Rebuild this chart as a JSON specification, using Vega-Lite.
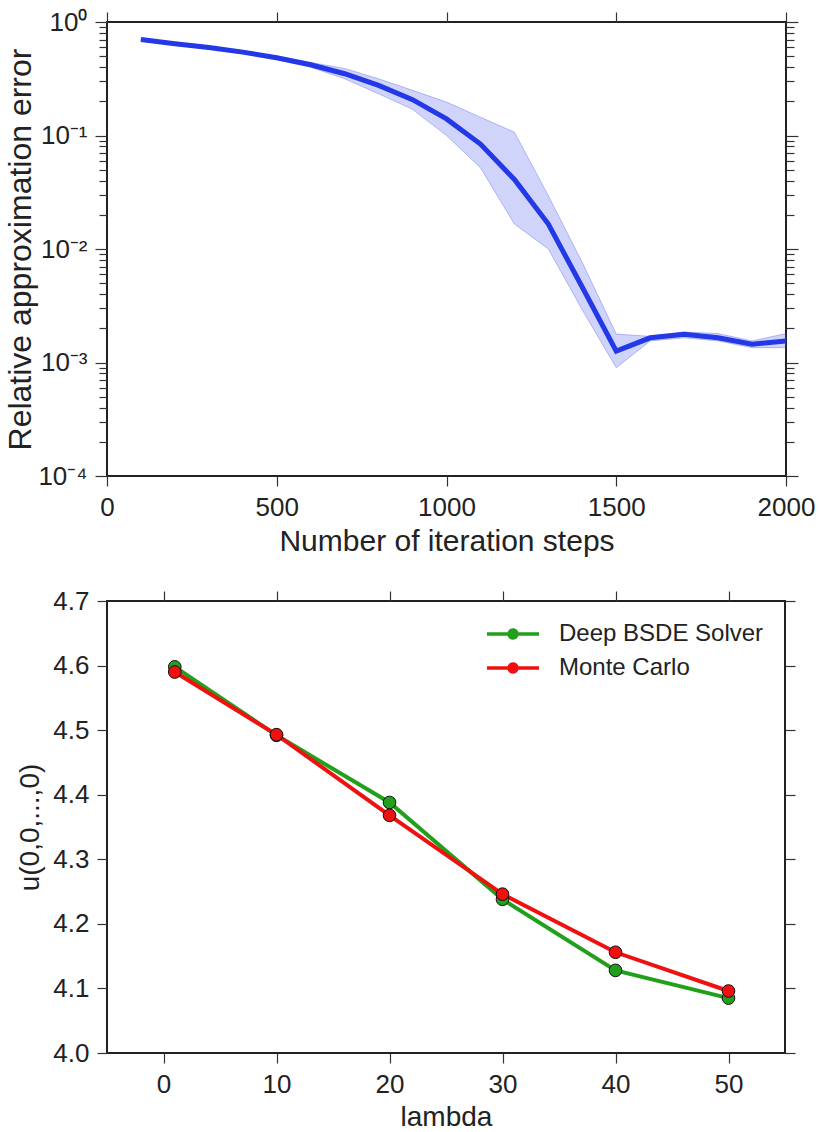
{
  "$schema": "https://vega.github.io/schema/vega-lite/v6.json",
  "padding": {"left": 3, "top": 8, "right": 0, "bottom": 0},
  "background": "white",
  "config": {
    "font": "Liberation Sans",
    "view": {"stroke": "#222", "strokeWidth": 2},
    "axis": {"domain": false, "grid": false, "tickColor": "#333", "tickWidth": 1.2, "labelFont": "Liberation Sans", "labelFontSize": 26, "labelColor": "#222", "titleFont": "Liberation Sans", "titleFontWeight": "normal", "titleColor": "#222", "labelFlush": false, "labelOverlap": false, "tickSize": 10, "labelPadding": 8},
    "legend": {"orient": "none", "legendX": 380, "legendY": 20, "title": null,
               "symbolType": "M-2,-0.14H2V0.14H-2Z M0.44,0A0.44,0.44,0,1,1,-0.44,0A0.44,0.44,0,1,1,0.44,0Z",
               "symbolSize": 676, "symbolStrokeWidth": 0, "symbolOffset": 13, "labelOffset": 33, "labelLimit": 0,
               "labelFontSize": 24, "labelFont": "Liberation Sans", "labelColor": "#222", "rowPadding": 9, "padding": 0, "symbolOpacity": 1},
    "concat": {"spacing": 30}
  },
  "resolve": {"legend": {"color": "independent"}},
  "vconcat": [
    {
      "width": 679,
      "height": 454,
      "data": {"values": [
        {"step": 100, "err": 0.70, "lo": 0.685, "hi": 0.72},
        {"step": 200, "err": 0.644, "lo": 0.63, "hi": 0.66},
        {"step": 300, "err": 0.597, "lo": 0.58, "hi": 0.615},
        {"step": 400, "err": 0.543, "lo": 0.525, "hi": 0.56},
        {"step": 500, "err": 0.484, "lo": 0.465, "hi": 0.50},
        {"step": 600, "err": 0.42, "lo": 0.40, "hi": 0.44},
        {"step": 700, "err": 0.35, "lo": 0.316, "hi": 0.39},
        {"step": 800, "err": 0.276, "lo": 0.233, "hi": 0.316},
        {"step": 900, "err": 0.207, "lo": 0.17, "hi": 0.25},
        {"step": 1000, "err": 0.14, "lo": 0.10, "hi": 0.197},
        {"step": 1100, "err": 0.084, "lo": 0.052, "hi": 0.145},
        {"step": 1200, "err": 0.041, "lo": 0.0166, "hi": 0.107},
        {"step": 1300, "err": 0.0166, "lo": 0.010, "hi": 0.0295},
        {"step": 1400, "err": 0.0046, "lo": 0.0029, "hi": 0.0076},
        {"step": 1500, "err": 0.00126, "lo": 0.0009, "hi": 0.00178},
        {"step": 1600, "err": 0.00165, "lo": 0.00155, "hi": 0.0017},
        {"step": 1700, "err": 0.00177, "lo": 0.00165, "hi": 0.00186},
        {"step": 1800, "err": 0.00165, "lo": 0.00155, "hi": 0.0018},
        {"step": 1900, "err": 0.00145, "lo": 0.00135, "hi": 0.00155},
        {"step": 2000, "err": 0.00155, "lo": 0.00135, "hi": 0.0018}
      ]},
      "layer": [
        {
          "mark": {"type": "area", "fill": "#2b3de8", "fillOpacity": 0.22, "stroke": "#2b3de8", "strokeOpacity": 0.3, "strokeWidth": 1},
          "encoding": {
            "x": {"field": "step", "type": "quantitative", "scale": {"domain": [0, 2000], "nice": false},
                  "axis": {"values": [0, 500, 1000, 1500, 2000], "format": "d", "title": "Number of iteration steps", "titleFontSize": 30, "titlePadding": 6}},
            "y": {"field": "lo", "type": "quantitative", "scale": {"type": "log", "domain": [0.0001, 1], "nice": false},
                  "axis": {"values": [0.0001,0.0002,0.0003,0.0004,0.0005,0.0006,0.0007,0.0008,0.0009,0.001,0.002,0.003,0.004,0.005,0.006,0.007,0.008,0.009,0.01,0.02,0.03,0.04,0.05,0.06,0.07,0.08,0.09,0.1,0.2,0.3,0.4,0.5,0.6,0.7,0.8,0.9,1],
                           "labelExpr": "datum.value == 1 ? '10⁰' : datum.value == 0.1 ? '10⁻¹' : datum.value == 0.01 ? '10⁻²' : datum.value == 0.001 ? '10⁻³' : datum.value == 0.0001 ? '10⁻⁴' : ''",
                           "tickSize": {"condition": {"test": "indexof([1,0.1,0.01,0.001,0.0001], datum.value) >= 0", "value": 12}, "value": 8},
                           "title": "Relative approximation error", "titleFontSize": 32, "titlePadding": 0}},
            "y2": {"field": "hi"}
          }
        },
        {
          "mark": {"type": "line", "color": "#2338e6", "strokeWidth": 5},
          "encoding": {
            "x": {"field": "step", "type": "quantitative", "axis": {"orient": "top", "labels": false, "title": null, "values": [0, 500, 1000, 1500, 2000]}},
            "y": {"field": "err", "type": "quantitative",
                  "axis": {"orient": "right", "labels": false, "title": null,
                           "values": [0.0001,0.0002,0.0003,0.0004,0.0005,0.0006,0.0007,0.0008,0.0009,0.001,0.002,0.003,0.004,0.005,0.006,0.007,0.008,0.009,0.01,0.02,0.03,0.04,0.05,0.06,0.07,0.08,0.09,0.1,0.2,0.3,0.4,0.5,0.6,0.7,0.8,0.9,1],
                           "tickSize": {"condition": {"test": "indexof([1,0.1,0.01,0.001,0.0001], datum.value) >= 0", "value": 12}, "value": 8}}}
          }
        }
      ],
      "resolve": {"axis": {"x": "independent", "y": "independent"}}
    },
    {
      "width": 678,
      "height": 452,
      "data": {"values": [
        {"lambda": 1, "method": "Deep BSDE Solver", "u": 4.598},
        {"lambda": 10, "method": "Deep BSDE Solver", "u": 4.492},
        {"lambda": 20, "method": "Deep BSDE Solver", "u": 4.388},
        {"lambda": 30, "method": "Deep BSDE Solver", "u": 4.238},
        {"lambda": 40, "method": "Deep BSDE Solver", "u": 4.128},
        {"lambda": 50, "method": "Deep BSDE Solver", "u": 4.085},
        {"lambda": 1, "method": "Monte Carlo", "u": 4.590},
        {"lambda": 10, "method": "Monte Carlo", "u": 4.493},
        {"lambda": 20, "method": "Monte Carlo", "u": 4.368},
        {"lambda": 30, "method": "Monte Carlo", "u": 4.246},
        {"lambda": 40, "method": "Monte Carlo", "u": 4.156},
        {"lambda": 50, "method": "Monte Carlo", "u": 4.096}
      ]},
      "layer": [
        {
          "mark": {"type": "line", "strokeWidth": 4},
          "encoding": {
            "x": {"field": "lambda", "type": "quantitative", "scale": {"domain": [-5, 55], "nice": false},
                  "axis": {"values": [0, 10, 20, 30, 40, 50], "title": "lambda", "titleFontSize": 28, "titlePadding": 6}},
            "y": {"field": "u", "type": "quantitative", "scale": {"domain": [4.0, 4.7], "nice": false, "zero": false},
                  "axis": {"values": [4.0, 4.1, 4.2, 4.3, 4.4, 4.5, 4.6, 4.7], "format": ".1f", "title": "u(0,0,...,0)", "titleFontSize": 28, "titlePadding": 8}},
            "color": {"field": "method", "type": "nominal", "scale": {"domain": ["Deep BSDE Solver", "Monte Carlo"], "range": ["#22a01c", "#f01010"]}}
          }
        },
        {
          "mark": {"type": "point", "filled": true, "size": 160, "stroke": "#111", "strokeWidth": 1, "opacity": 1},
          "encoding": {
            "x": {"field": "lambda", "type": "quantitative", "axis": {"orient": "top", "labels": false, "title": null, "values": [0, 10, 20, 30, 40, 50]}},
            "y": {"field": "u", "type": "quantitative", "axis": {"orient": "right", "labels": false, "title": null, "values": [4.0, 4.1, 4.2, 4.3, 4.4, 4.5, 4.6, 4.7]}},
            "color": {"field": "method", "type": "nominal"}
          }
        }
      ],
      "resolve": {"axis": {"x": "independent", "y": "independent"}}
    }
  ]
}
